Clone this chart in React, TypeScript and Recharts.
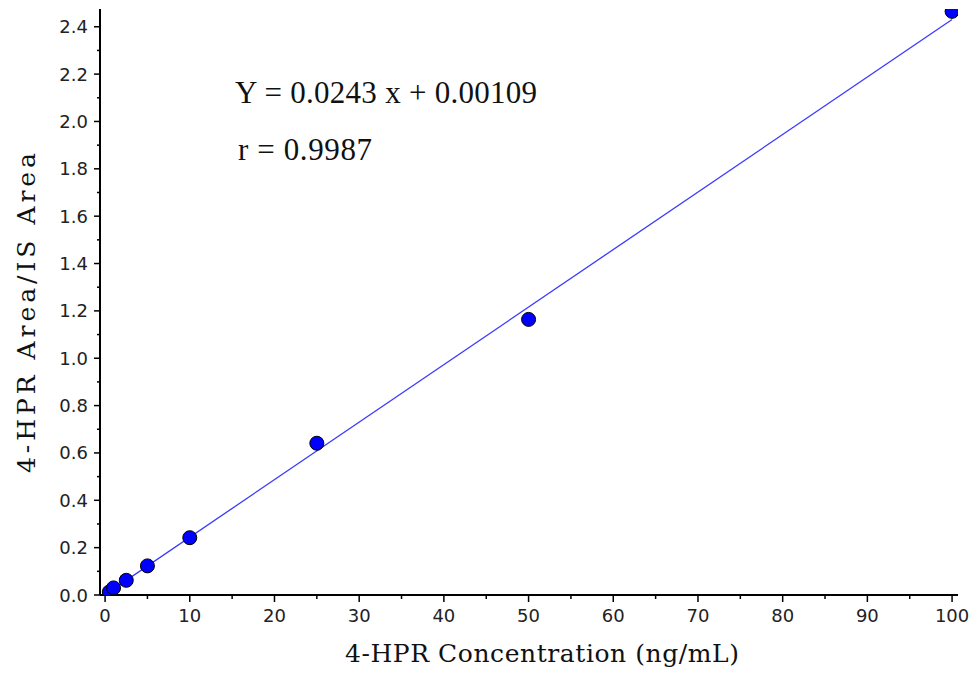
import React from 'react';
import { ScatterChart, Scatter, XAxis, YAxis, Customized } from 'recharts';

const concentrations = [0.5, 1, 2.5, 5, 10, 25, 50, 100];
const areaRatios = [0.013, 0.03, 0.062, 0.123, 0.242, 0.641, 1.164, 2.465];
const fitX = [0.5, 100];
const fitY = [0.0133, 2.431];
const xTicks = [0, 5, 10, 15, 20, 25, 30, 35, 40, 45, 50, 55, 60, 65, 70, 75, 80, 85, 90, 95, 100];
const yTicks = [0, 0.1, 0.2, 0.3, 0.4, 0.5, 0.6, 0.7, 0.8, 0.9, 1.0, 1.1, 1.2, 1.3, 1.4, 1.5, 1.6, 1.7, 1.8, 1.9, 2.0, 2.1, 2.2, 2.3, 2.4];
const xLabel = '4-HPR Concentration (ng/mL)';
const yLabel = '4-HPR Area/IS Area';
const equationText = 'Y = 0.0243 x + 0.00109';
const rText = 'r = 0.9987';

const points = concentrations.map((x, i) => ({ x, y: areaRatios[i] }));
const fitData = fitX.map((x, i) => ({ x, y: fitY[i] }));

const XTick = (props: any) => {
  const { x, y, payload } = props;
  const v = payload.value;
  const major = Math.round(v) % 10 === 0;
  return (
    <g>
      <line x1={x} x2={x} y1={y} y2={y + (major ? 7 : 4)} stroke="#000" strokeWidth={1.5} />
      {major && (
        <text x={x} y={y + 27} textAnchor="middle" fontFamily="DejaVu Sans" fontSize={18} fill="#222">
          {v}
        </text>
      )}
    </g>
  );
};

const YTick = (props: any) => {
  const { x, y, payload } = props;
  const v = payload.value;
  const major = Math.round(v * 10) % 2 === 0;
  return (
    <g>
      <line x1={x - (major ? 6 : 3)} x2={x} y1={y} y2={y} stroke="#000" strokeWidth={1.5} />
      {major && (
        <text x={x - 12} y={y + 6.5} textAnchor="end" fontFamily="DejaVu Sans" fontSize={18} fill="#222">
          {v.toFixed(1)}
        </text>
      )}
    </g>
  );
};

const Texts = () => (
  <g fill="#111">
    <text
      x={542}
      y={662}
      fontFamily="'DejaVu Serif', serif"
      fontSize={25}
      textAnchor="middle"
      textLength={394}
      lengthAdjust="spacing"
    >
      {xLabel}
    </text>
    <text
      x={35}
      y={313}
      fontFamily="'DejaVu Serif', serif"
      fontSize={25}
      textAnchor="middle"
      textLength={320}
      lengthAdjust="spacing"
      transform="rotate(-90, 35, 313)"
    >
      {yLabel}
    </text>
    <text x={235} y={103} fontFamily="'Liberation Serif', serif" fontSize={31} textLength={302} lengthAdjust="spacing">
      {equationText}
    </text>
    <text x={238} y={160} fontFamily="'Liberation Serif', serif" fontSize={31} textLength={134} lengthAdjust="spacing">
      {rText}
    </text>
  </g>
);

const Dot = (props: any) => {
  const { cx, cy } = props;
  return <circle cx={cx} cy={cy} r={7} fill="#0000ff" stroke="#000" strokeWidth={1} />;
};

export default function App() {
  return (
    <div style={{ position: 'absolute', left: 0, top: 0, width: 974, height: 675, background: '#fff' }}>
      <ScatterChart width={974} height={675} margin={{ top: 9, right: 16, bottom: 50, left: 40 }}>
        <XAxis
          type="number"
          dataKey="x"
          domain={[-0.6, 100.7]}
          ticks={xTicks}
          interval={0}
          allowDataOverflow
          height={30}
          tickSize={0}
          tickMargin={0}
          tickLine={false}
          axisLine={{ stroke: '#000', strokeWidth: 2 }}
          tick={<XTick />}
        />
        <YAxis
          type="number"
          dataKey="y"
          domain={[0, 2.475]}
          ticks={yTicks}
          interval={0}
          allowDataOverflow
          width={60}
          tickSize={0}
          tickMargin={0}
          tickLine={false}
          axisLine={{ stroke: '#000', strokeWidth: 2 }}
          tick={<YTick />}
        />
        <Scatter
          data={fitData}
          line={{ stroke: '#3a3aff', strokeWidth: 1.3 }}
          shape={() => <g />}
          isAnimationActive={false}
        />
        <Scatter data={points} shape={<Dot />} isAnimationActive={false} />
        <Customized component={Texts} />
      </ScatterChart>
    </div>
  );
}
